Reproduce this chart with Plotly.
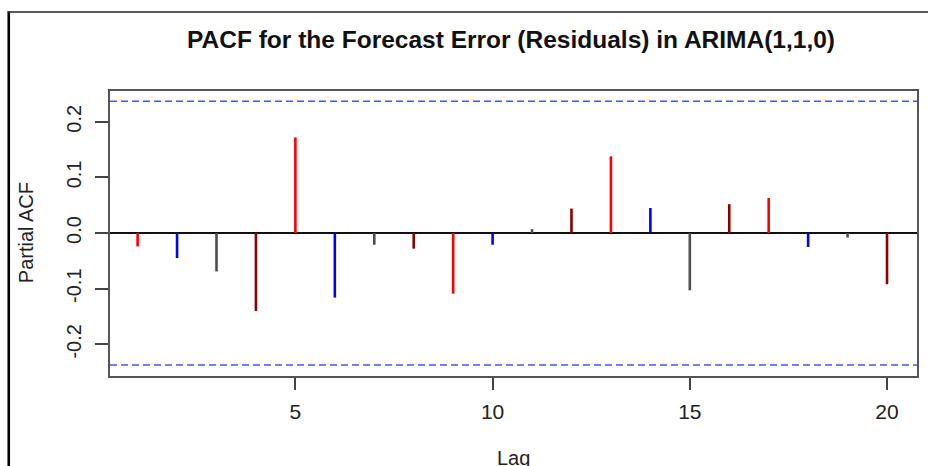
import plotly.graph_objects as go

# ---- data ----
lags = list(range(1, 21))
pacf_values = [-0.024, -0.045, -0.069, -0.140, 0.172, -0.116, -0.021, -0.028, -0.109, -0.021,
               0.007, 0.044, 0.138, 0.045, -0.103, 0.052, 0.063, -0.025, -0.008, -0.092]
bar_colors = ["red", "blue", "#4d4d4d", "#8b0000"]   # cycles over lags
conf_limit = 0.237
y_tick_vals = [-0.2, -0.1, 0.0, 0.1, 0.2]
y_tick_text = ["-0.2", "-0.1", "0.0", "0.1", "0.2"]
x_tick_vals = [5, 10, 15, 20]
x_tick_text = ["5", "10", "15", "20"]
title_text = "PACF for the Forecast Error (Residuals) in ARIMA(1,1,0)"
x_label = "Lag"
y_label = "Partial ACF"

W, H = 928, 466
L, R, T, B = 110, 9, 91, 90
pw, ph = W - L - R, H - T - B

def px_x(px):
    return (px - L) / pw

def px_y(py):
    return (H - B - py) / ph

FONT = "Liberation Sans, Arial, sans-serif"

fig = go.Figure()

for ci, col in enumerate(bar_colors):
    xs, ys = [], []
    for i, (lag, v) in enumerate(zip(lags, pacf_values)):
        if i % len(bar_colors) == ci:
            xs += [lag, lag, None]
            ys += [0, v, None]
    fig.add_trace(go.Scatter(x=xs, y=ys, mode="lines",
                             line=dict(color=col, width=2.6),
                             hoverinfo="skip", showlegend=False))

shapes = []
for c in (conf_limit, -conf_limit):
    shapes.append(dict(type="line", xref="paper", yref="y", x0=0, x1=1, y0=c, y1=c,
                       line=dict(color="#4f4fff", width=1.5, dash="7px,4px")))
# outer image frame
shapes.append(dict(type="line", xref="paper", yref="paper",
                   x0=px_x(8.5), x1=px_x(8.5), y0=px_y(11.5), y1=px_y(470),
                   line=dict(color="black", width=2.6)))
shapes.append(dict(type="line", xref="paper", yref="paper",
                   x0=px_x(7.2), x1=px_x(935), y0=px_y(12), y1=px_y(12),
                   line=dict(color="#222", width=1.6)))

annotations = [
    dict(text=x_label, xref="paper", yref="paper", x=px_x(514), y=px_y(458),
         xanchor="center", yanchor="middle", showarrow=False,
         font=dict(family=FONT, size=20, color="#222")),
    dict(text=y_label, xref="paper", yref="paper", x=px_x(26), y=px_y(233),
         xanchor="center", yanchor="middle", showarrow=False, textangle=-90,
         font=dict(family=FONT, size=20, color="#222")),
]

fig.update_layout(
    width=W, height=H,
    margin=dict(l=L, r=R, t=T, b=B, pad=0),
    paper_bgcolor="white", plot_bgcolor="white",
    title=dict(text="<b>" + title_text + "</b>", x=px_x(512), xref="paper", xanchor="center",
               y=1 - 39 / H, yref="container", yanchor="middle",
               font=dict(family=FONT, size=24.5, color="#111")),
    shapes=shapes, annotations=annotations,
    xaxis=dict(range=[0.3, 20.76], tickvals=x_tick_vals, ticktext=x_tick_text,
               showgrid=False, zeroline=False, showline=True, mirror=True,
               linecolor="#555", linewidth=1.6, ticks="outside", ticklen=12,
               tickwidth=1.5, tickcolor="#444", ticklabelstandoff=4,
               tickfont=dict(family=FONT, size=21, color="#222")),
    yaxis=dict(range=[-0.257, 0.2554], tickvals=y_tick_vals, ticktext=y_tick_text,
               showgrid=False, zeroline=True, zerolinecolor="#111", zerolinewidth=1.5,
               showline=True, mirror=True, linecolor="#555", linewidth=1.6,
               ticks="outside", ticklen=13, tickwidth=1.5, tickcolor="#444",
               tickangle=-90, ticklabelstandoff=6,
               tickfont=dict(family=FONT, size=20, color="#222")),
)

fig.write_html("out.html", config={"displayModeBar": False},
               post_script="document.body.style.margin='0';document.body.style.overflow='hidden';")
